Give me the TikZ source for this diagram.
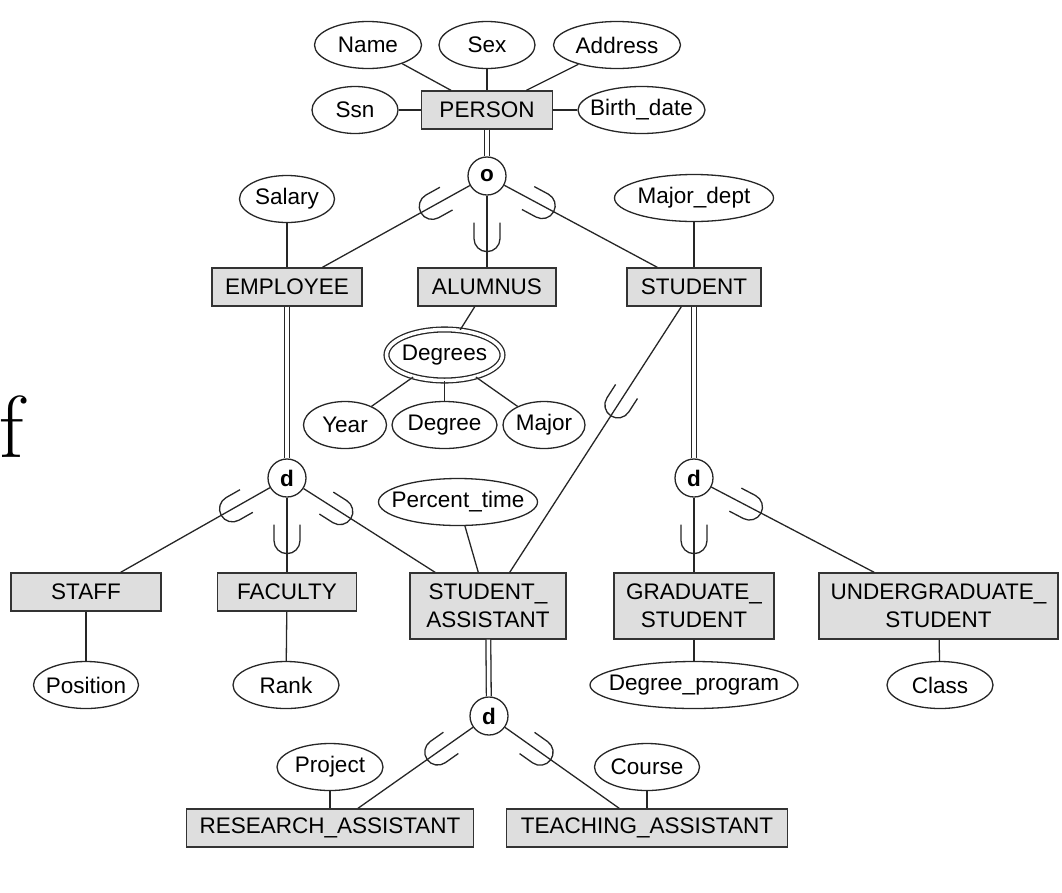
\documentclass[tikz,border=0pt]{standalone}
\usepackage{fontspec}
\setsansfont{Liberation Sans}
\usetikzlibrary{shapes.geometric}
\tikzset{
	entity/.style={rectangle, draw=black!80, fill=black!13, line width=1.3pt, minimum height=38pt, inner sep=0pt, align=center, font=\sffamily\fontsize{22.5}{28}\selectfont},
	attrib/.style={ellipse, draw=black!85, line width=1.3pt, minimum height=47pt, inner xsep=-12pt, inner ysep=0pt, font=\sffamily\fontsize{22.5}{28}\selectfont},
	multiattrib/.style={attrib, double, double distance=3.5pt},
	spec/.style={circle, draw=black!85, line width=1.3pt, minimum size=38pt, inner sep=0pt, font=\sffamily\bfseries\fontsize{22.5}{28}\selectfont},
	link/.style={draw=black!85, line width=1.3pt},
	total/.style={link, double, double distance=3.5pt},
	subcup/.pic={\draw[link] (#1-16,13) -- (#1,13) arc (90:-90:13) -- (#1-16,-13);}
}

\begin{document}
\begin{tikzpicture}[x=1pt,y=1pt]
		%%%%% START %%%%%
		\useasboundingbox (0,0) rectangle (1062,-892);
		
		\node[anchor=base west, inner sep=0pt, font=\fontsize{88}{88}\selectfont] (glyph) at (-1,-457) {f};
		
		% entities
		\node[entity, minimum width=131pt] (person) at (487,-110) {PERSON};
		\node[entity, minimum width=150pt] (emp) at (287,-287) {EMPLOYEE};
		\node[entity, minimum width=138pt] (alum) at (487,-287) {ALUMNUS};
		\node[entity, minimum width=134pt] (stud) at (694,-287) {STUDENT};
		\node[entity, minimum width=150pt] (staff) at (86,-592) {STAFF};
		\node[entity, minimum width=139pt] (faculty) at (287,-592) {FACULTY};
		\node[entity, minimum width=156pt, minimum height=66pt] (sa) at (488,-606) {STUDENT\_\\ASSISTANT};
		\node[entity, minimum width=160pt, minimum height=66pt] (grad) at (694,-606) {GRADUATE\_\\STUDENT};
		\node[entity, minimum width=239pt, minimum height=66pt] (ugrad) at (938.5,-606) {UNDERGRADUATE\_\\STUDENT};
		\node[entity, minimum width=287pt] (ra) at (330,-828) {RESEARCH\_ASSISTANT};
		\node[entity, minimum width=281pt] (ta) at (647,-828) {TEACHING\_ASSISTANT};
		
		% attributes
		\node[attrib, minimum width=107pt] (name) at (368,-45) {Name};
		\node[attrib, minimum width=96pt] (sex) at (487,-45) {Sex};
		\node[attrib, minimum width=127pt] (address) at (617,-45) {Address};
		\node[attrib, minimum width=86pt] (ssn) at (355,-110) {Ssn};
		\node[attrib, minimum width=127pt] (birth) at (641.5,-110) {Birth\_date};
		\node[attrib, minimum width=95pt] (salary) at (287,-199) {Salary};
		\node[attrib, minimum width=159pt] (majordept) at (694,-198) {Major\_dept};
		\node[multiattrib, minimum width=116pt, minimum height=51pt] (degrees) at (444.5,-355) {Degrees};
		\node[attrib, minimum width=83pt] (year) at (345,-425) {Year};
		\node[attrib, minimum width=105pt] (degree) at (444.5,-425) {Degree};
		\node[attrib, minimum width=82pt] (major) at (544,-425) {Major};
		\node[attrib, minimum width=159pt] (percent) at (458,-502) {Percent\_time};
		\node[attrib, minimum width=105pt] (position) at (86,-685) {Position};
		\node[attrib, minimum width=106pt] (rank) at (286,-685) {Rank};
		\node[attrib, minimum width=208pt] (degprog) at (694,-685) {Degree\_program};
		\node[attrib, minimum width=106pt] (class) at (940,-685) {Class};
		\node[attrib, minimum width=106pt] (project) at (330,-767) {Project};
		\node[attrib, minimum width=105pt] (course) at (647,-767) {Course};
		
		% specialization circles
		\node[spec] (ovl) at (487,-176) {o};
		\node[spec] (dEmp) at (287,-478) {d};
		\node[spec] (dStud) at (694,-478) {d};
		\node[spec] (dSa) at (489,-716) {d};
		
		% attribute links
		\draw[link] (name) -- (person);
		\draw[link] (sex) -- (person);
		\draw[link] (address) -- (person);
		\draw[link] (ssn) -- (person);
		\draw[link] (birth) -- (person);
		\draw[link] (salary) -- (emp);
		\draw[link] (majordept) -- (stud);
		\draw[link] (alum) -- (degrees);
		\draw[link] (degrees) -- (year);
		\draw[link] (degrees) -- (degree);
		\draw[link] (degrees) -- (major);
		\draw[link] (percent) -- (sa);
		\draw[link] (staff) -- (position);
		\draw[link] (faculty) -- (rank);
		\draw[link] (grad) -- (degprog);
		\draw[link] (ugrad) -- (class);
		\draw[link] (project) -- (ra);
		\draw[link] (course) -- (ta);
		
		% specializations
		\draw[total] (person) -- (ovl);
		\draw[link] (ovl) -- (emp) pic[pos=0, sloped, allow upside down] {subcup=43};
		\draw[link] (ovl) -- (alum) pic[pos=0, sloped, allow upside down] {subcup=43};
		\draw[link] (ovl) -- (stud) pic[pos=0, sloped, allow upside down] {subcup=43};
		
		\draw[total] (emp) -- (dEmp);
		\draw[link] (dEmp) -- (staff) pic[pos=0, sloped, allow upside down] {subcup=43};
		\draw[link] (dEmp) -- (faculty) pic[pos=0, sloped, allow upside down] {subcup=43};
		\draw[link] (dEmp) -- (sa) pic[pos=0, sloped, allow upside down] {subcup=43};
		
		\draw[total] (stud) -- (dStud);
		\draw[link] (dStud) -- (grad) pic[pos=0, sloped, allow upside down] {subcup=43};
		\draw[link] (dStud) -- (ugrad) pic[pos=0, sloped, allow upside down] {subcup=43};
		\draw[link] (stud) -- (sa) pic[pos=0, sloped, allow upside down] {subcup=117};
		
		\draw[total] (sa) -- (dSa);
		\draw[link] (dSa) -- (ra) pic[pos=0, sloped, allow upside down] {subcup=43};
		\draw[link] (dSa) -- (ta) pic[pos=0, sloped, allow upside down] {subcup=43};
		
		%%%%% END %%%%%
\end{tikzpicture}
\end{document}
